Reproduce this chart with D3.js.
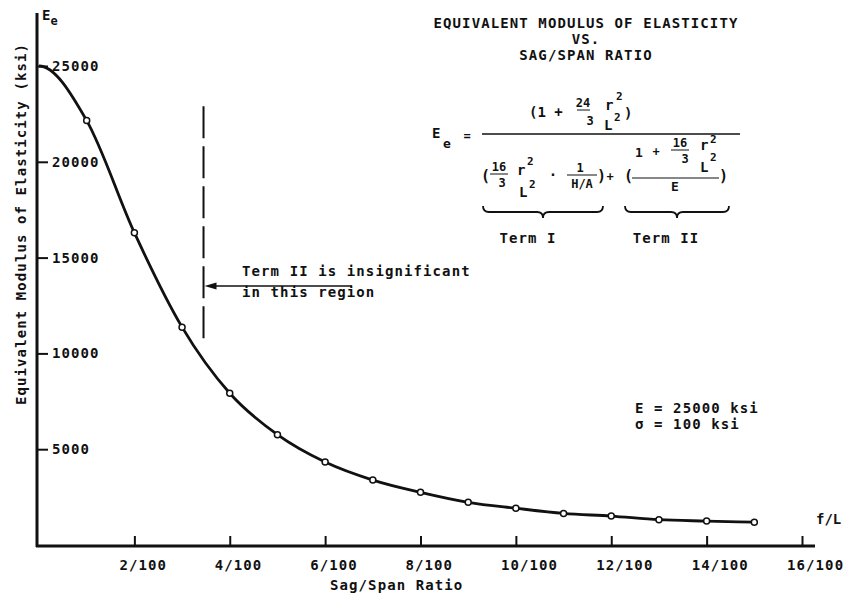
<!DOCTYPE html>
<html>
<head>
<meta charset="utf-8">
<script src="https://cdn.jsdelivr.net/npm/d3@7"></script>
<style>
  html, body { margin: 0; padding: 0; background: #fff; }
  svg text { font-family: "DejaVu Sans Mono", "Liberation Mono", monospace; fill: #111; font-weight: bold; }
</style>
</head>
<body>
<svg id="chart" width="847" height="594"></svg>
<script>
// ---- data ----
const sagSpan = [0, 0.01, 0.02, 0.03, 0.04, 0.05, 0.06, 0.07, 0.08, 0.09, 0.10, 0.11, 0.12, 0.13, 0.14, 0.15];
const modulus = [25000, 22150, 16300, 11370, 7920, 5760, 4330, 3390, 2750, 2230, 1920, 1650, 1510, 1320, 1250, 1190];
const markerFlags = [0, 1, 1, 1, 1, 1, 1, 1, 1, 1, 1, 1, 1, 1, 1, 1];
const xTickValues = [0.02, 0.04, 0.06, 0.08, 0.10, 0.12, 0.14, 0.16];
const xTickLabels = ["2/100", "4/100", "6/100", "8/100", "10/100", "12/100", "14/100", "16/100"];
const yTickValues = [5000, 10000, 15000, 20000, 25000];
const yTickLabels = ["5000", "10000", "15000", "20000", "25000"];
const regionBoundary = 0.0345;        // dashed line position (f/L)
const regionRange = [10600, 22900];   // dashed line vertical extent (ksi)
const titleLines = ["EQUIVALENT MODULUS OF ELASTICITY", "VS.", "SAG/SPAN RATIO"];
const noteLines = ["E = 25000 ksi", "\u03c3 = 100 ksi"];
const annotationLines = ["Term II is insignificant", "in this region"];

const svg = d3.select("#chart");
const x = d3.scaleLinear().domain([0, 0.16]).range([39, 802]);
const y = d3.scaleLinear().domain([0, 25000]).range([545, 66]);

const ink = "#111";
const LS = "1.1px";

// ---- custom smooth curve: cubic Hermite, flat start tangent ----
function hermiteFlatStart(context) {
  let xs = [], ys = [];
  return {
    areaStart() {}, areaEnd() {},
    lineStart() { xs = []; ys = []; },
    point(px, py) { xs.push(+px); ys.push(+py); },
    lineEnd() {
      const n = xs.length;
      if (!n) return;
      const m = new Array(n);
      for (let i = 0; i < n; i++) {
        if (i === 0) m[i] = 0;
        else if (i === n - 1) m[i] = (ys[i] - ys[i - 1]) / (xs[i] - xs[i - 1]);
        else m[i] = (ys[i + 1] - ys[i - 1]) / (xs[i + 1] - xs[i - 1]);
      }
      context.moveTo(xs[0], ys[0]);
      for (let i = 0; i < n - 1; i++) {
        const h = (xs[i + 1] - xs[i]) / 3;
        context.bezierCurveTo(xs[i] + h, ys[i] + m[i] * h, xs[i + 1] - h, ys[i + 1] - m[i + 1] * h, xs[i + 1], ys[i + 1]);
      }
    }
  };
}

// ---- axes ----
svg.append("line").attr("x1", 37).attr("y1", 13).attr("x2", 37).attr("y2", 547)
  .attr("stroke", ink).attr("stroke-width", 3);
svg.append("line").attr("x1", 36).attr("y1", 546).attr("x2", 815).attr("y2", 546)
  .attr("stroke", ink).attr("stroke-width", 3);

const xAxis = d3.axisTop(x).tickValues(xTickValues).tickSize(10).tickFormat("");
const gx = svg.append("g").attr("transform", "translate(0,546)").call(xAxis);
gx.select(".domain").remove();
gx.selectAll(".tick line").attr("stroke", ink).attr("stroke-width", 2);
svg.selectAll(".xlab").data(xTickValues).enter().append("text")
  .attr("x", d => x(d) - 15).attr("y", 570)
  .attr("font-size", 14).style("letter-spacing", LS)
  .text((d, i) => xTickLabels[i]);

const yAxis = d3.axisRight(y).tickValues(yTickValues).tickSize(11).tickFormat("");
const gy = svg.append("g").attr("transform", "translate(37,0)").call(yAxis);
gy.select(".domain").remove();
gy.selectAll(".tick line").attr("stroke", ink).attr("stroke-width", 2);
svg.selectAll(".ylab").data(yTickValues).enter().append("text")
  .attr("x", 52).attr("y", d => y(d) + 5)
  .attr("font-size", 14).style("letter-spacing", LS)
  .text((d, i) => yTickLabels[i]);

svg.append("text").attr("transform", "translate(26,224) rotate(-90)")
  .attr("text-anchor", "middle").attr("font-size", 14).style("letter-spacing", LS)
  .text("Equivalent Modulus of Elasticity (ksi)");
svg.append("text").attr("x", 330).attr("y", 590).attr("font-size", 14).style("letter-spacing", LS)
  .text("Sag/Span Ratio");
svg.append("text").attr("x", 816).attr("y", 524).attr("font-size", 14).text("f/L");
const ee = svg.append("text").attr("x", 42).attr("y", 20).attr("font-size", 14);
ee.append("tspan").text("E");
ee.append("tspan").attr("font-size", 12).attr("dy", 5).text("e");

// ---- curve ----
const pts = sagSpan.map((v, i) => ({ s: v, m: modulus[i], k: markerFlags[i] }));
const line = d3.line().x(d => x(d.s)).y(d => y(d.m)).curve(hermiteFlatStart);
svg.append("path").datum(pts).attr("d", line)
  .attr("fill", "none").attr("stroke", ink).attr("stroke-width", 2.8);
svg.selectAll(".pt").data(pts.filter(d => d.k)).enter().append("circle")
  .attr("cx", d => x(d.s)).attr("cy", d => y(d.m)).attr("r", 3)
  .attr("fill", "#fff").attr("stroke", ink).attr("stroke-width", 1.5);

// ---- region annotation ----
svg.append("line")
  .attr("x1", x(regionBoundary)).attr("x2", x(regionBoundary))
  .attr("y1", y(regionRange[1])).attr("y2", y(regionRange[0]))
  .attr("stroke", ink).attr("stroke-width", 2).attr("stroke-dasharray", "32,8");
svg.append("line").attr("x1", x(regionBoundary) + 8).attr("x2", 352)
  .attr("y1", 286).attr("y2", 286).attr("stroke", ink).attr("stroke-width", 1.5);
const ax = x(regionBoundary) + 1;
svg.append("path").attr("d", `M${ax},286 L${ax + 12},282.5 L${ax + 12},289.5 Z`).attr("fill", ink);
annotationLines.forEach((t, i) => {
  svg.append("text").attr("x", 242).attr("y", 276 + i * 21).attr("font-size", 14)
    .style("letter-spacing", LS).text(t);
});

// ---- title ----
titleLines.forEach((t, i) => {
  svg.append("text").attr("x", 586).attr("y", 28 + i * 16).attr("text-anchor", "middle")
    .attr("font-size", 14).style("letter-spacing", LS).text(t);
});

// ---- notes ----
noteLines.forEach((t, i) => {
  svg.append("text").attr("x", 635).attr("y", 413 + i * 16).attr("font-size", 14)
    .style("letter-spacing", LS).text(t);
});

// ---- formula ----
const F = svg.append("g");
function T(xp, yp, s, fs, anchor) {
  return F.append("text").attr("x", xp).attr("y", yp).attr("font-size", fs || 14)
    .attr("text-anchor", anchor || "start").text(s);
}
function L(x1, y1, x2, y2, w) {
  F.append("line").attr("x1", x1).attr("y1", y1).attr("x2", x2).attr("y2", y2)
    .attr("stroke", ink).attr("stroke-width", w || 1.2);
}
T(432, 138, "E", 14);
T(443, 148, "e", 13);
T(467, 140, "=", 12, "middle");
L(482, 134, 740, 134, 1.5);
// numerator
T(529, 117, "(1 +", 14);
T(583, 107, "24", 12, "middle");
L(577, 110, 590, 110, 1);
T(590, 125, "3", 12, "middle");
T(605, 110, "r", 14);
T(616, 100, "2", 11);
T(604, 130, "L", 14);
T(614, 121, "2", 11);
T(624, 118, ")", 14);
// denominator term I
T(481, 181, "(", 15);
T(499, 171, "16", 12, "middle");
L(490, 174, 508, 174, 1);
T(502, 187, "3", 12, "middle");
T(517, 175, "r", 14);
T(527, 165, "2", 11);
T(519, 197, "L", 14);
T(529, 188, "2", 11);
T(553, 180, "\u00b7", 14, "middle");
T(580, 172, "1", 12, "middle");
L(567, 175, 597, 175, 1);
T(582, 188, "H/A", 12, "middle");
T(597, 181, ")", 15);
T(610, 181, "+", 12, "middle");
// denominator term II
T(624, 181, "(", 15);
T(639, 157, "1", 13, "middle");
T(656, 156, "+", 12, "middle");
T(680, 147, "16", 12, "middle");
L(671, 150, 689, 150, 1);
T(685, 163, "3", 12, "middle");
T(700, 150, "r", 14);
T(710, 143, "2", 11);
T(700, 172, "L", 14);
T(710, 161, "2", 11);
L(632, 178, 719, 178, 1.2);
T(675, 191, "E", 13, "middle");
T(719, 181, ")", 15);
function brace(x1, x2, y0) {
  const m = (x1 + x2) / 2, r = 6, y1 = y0 + 6, y2 = y0 + 12;
  F.append("path")
    .attr("d", `M${x1},${y0} Q${x1},${y1} ${x1 + r},${y1} L${m - r},${y1} Q${m},${y1} ${m},${y2} Q${m},${y1} ${m + r},${y1} L${x2 - r},${y1} Q${x2},${y1} ${x2},${y0}`)
    .attr("fill", "none").attr("stroke", ink).attr("stroke-width", 1.8);
}
brace(483, 603, 206);
brace(625, 729, 206);
T(528, 243, "Term I", 14, "middle").style("letter-spacing", LS);
T(666, 243, "Term II", 14, "middle").style("letter-spacing", LS);
</script>
</body>
</html>
